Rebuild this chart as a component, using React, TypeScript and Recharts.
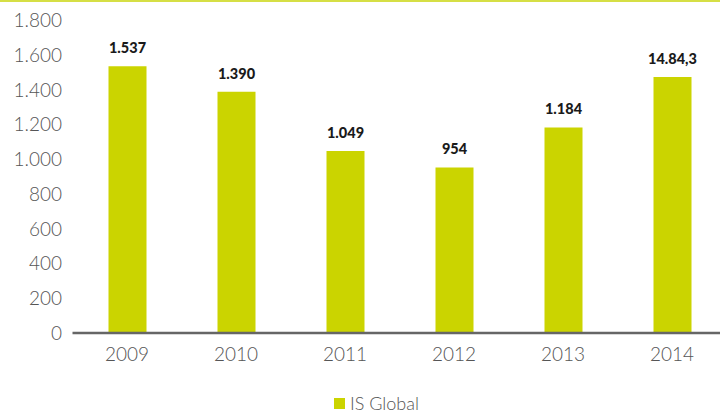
import { BarChart, Bar, XAxis, YAxis, LabelList, Legend } from 'recharts'

const years = ['2009', '2010', '2011', '2012', '2013', '2014']
const values = [1537, 1390, 1049, 954, 1184, 1474]
const valueLabels = ['1.537', '1.390', '1.049', '954', '1.184', '14.84,3']
const yTicks = [0, 200, 400, 600, 800, 1000, 1200, 1400, 1600, 1800]
const seriesName = 'IS Global'

const data = years.map((year, i) => ({ year, value: values[i], label: valueLabels[i] }))

const green = '#cbd400'
const font = 'Lato, "Open Sans", sans-serif'

const thousands = (v: number) => String(v).replace(/\B(?=(\d{3})+(?!\d))/g, '.')

function LegendBox() {
  return (
    <div style={{ display: 'flex', alignItems: 'center', height: 20, lineHeight: '20px', paddingLeft: 334, fontFamily: font }}>
      <span style={{ width: 11, height: 11, background: green, display: 'inline-block', marginRight: 5 }} />
      <span style={{ fontSize: 18, fontWeight: 300, color: '#555', lineHeight: '20px' }}>{seriesName}</span>
    </div>
  )
}

export default function App() {
  return (
    <div style={{ position: 'absolute', left: 0, top: 0, width: 720, height: 415, overflow: 'hidden', background: '#fff' }}>
      <div style={{ position: 'absolute', left: 0, top: 0, width: 720, height: 2, background: '#d6df45' }} />
      <BarChart
        width={740}
        height={415}
        data={data}
        margin={{ top: 20.5, right: 13.5, left: 0, bottom: 32 }}
      >
        <YAxis
          domain={[0, 1800]}
          ticks={yTicks}
          width={72.5}
          axisLine={false}
          tickLine={false}
          tickSize={0}
          tickMargin={10.5}
          tickFormatter={thousands}
          tick={{ fill: '#555', fontSize: 19, fontWeight: 300, fontFamily: font }}
        />
        <XAxis
          dataKey="year"
          height={30}
          tickLine={false}
          tickSize={0}
          tickMargin={14.5}
          axisLine={{ stroke: '#666', strokeWidth: 2.5 }}
          tick={{ fill: '#555', fontSize: 19, fontWeight: 300, fontFamily: font }}
        />
        <Legend
          verticalAlign="bottom"
          content={() => <LegendBox />}
          wrapperStyle={{ top: 393, left: 0, width: 720, height: 20 }}
        />
        <Bar dataKey="value" name={seriesName} fill={green} barSize={38} isAnimationActive={false}>
          <LabelList
            dataKey="label"
            position="top"
            offset={13}
            style={{ fill: '#1a1a1a', fontSize: 14.5, fontWeight: 900, fontFamily: font }}
          />
        </Bar>
      </BarChart>
    </div>
  )
}
